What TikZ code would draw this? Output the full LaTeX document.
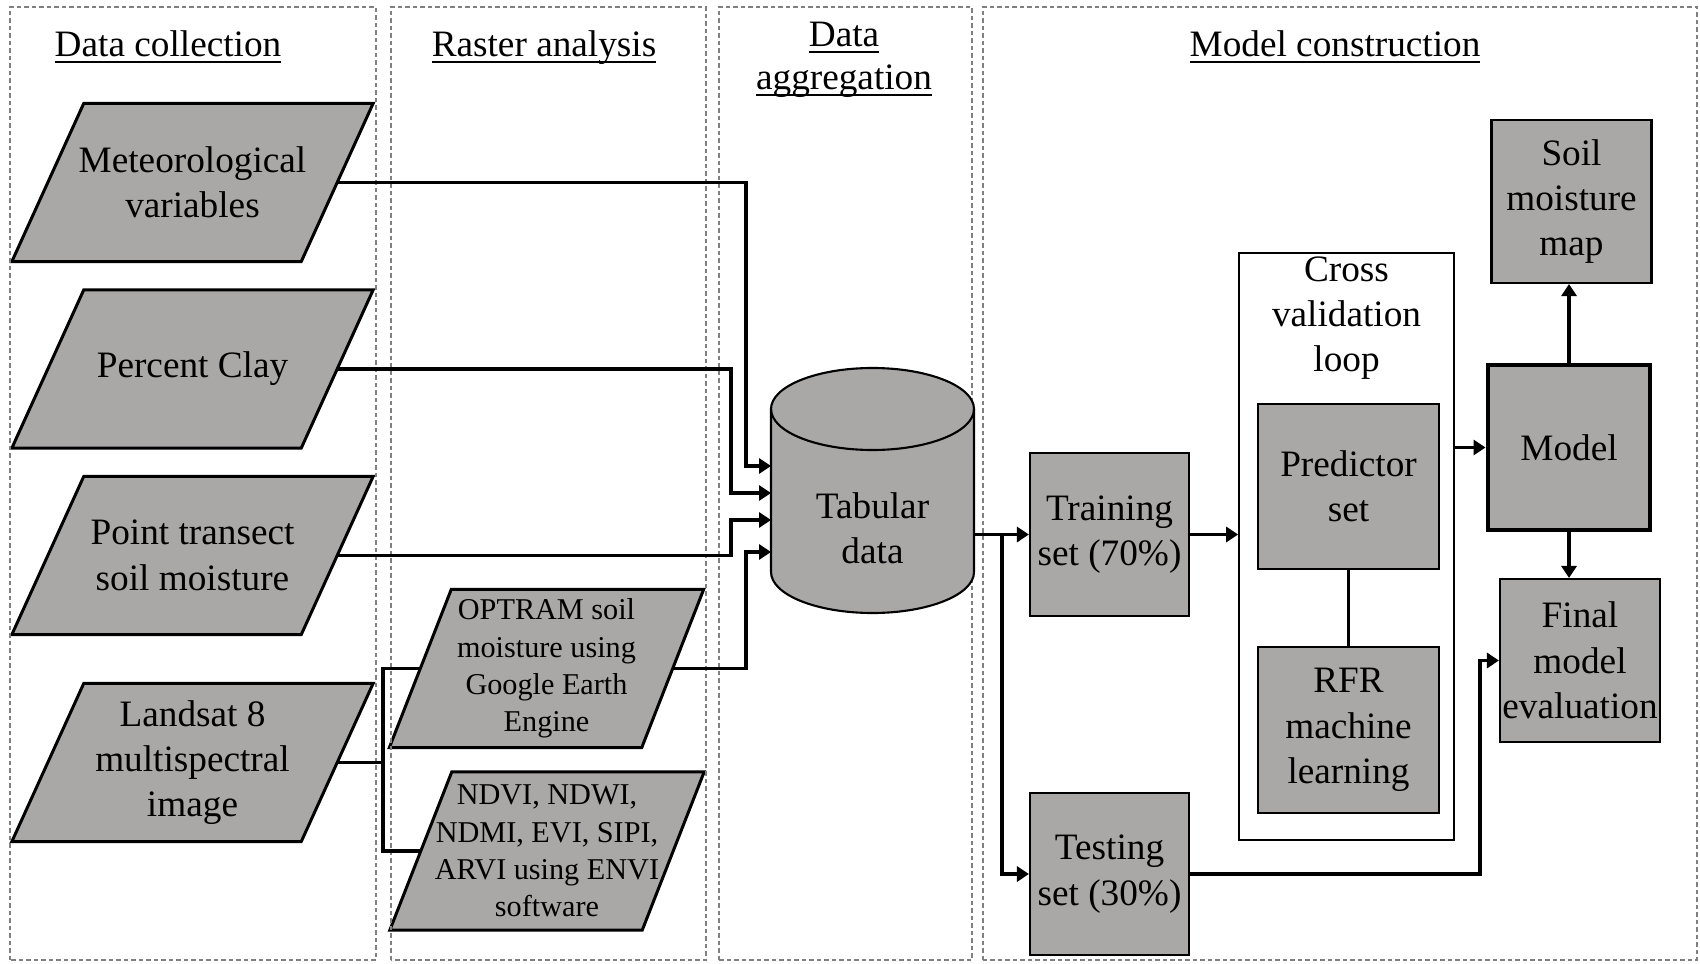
\documentclass[tikz,border=0pt]{standalone}
\usepackage{fontspec}
\setmainfont{Liberation Serif}
\usetikzlibrary{arrows.meta,calc,backgrounds}
\definecolor{boxgray}{RGB}{170,167,167}

\def\fnt{\fontsize{10.6}{12.9}\selectfont}
\def\sfnt{\fontsize{8.6}{10.6}\selectfont}
\def\ul#1{\underline{\smash{#1}}}

\begin{document}
\begin{tikzpicture}[x=0.1mm, y=0.1mm]
	\tikzset{col/.style={draw=gray, dash pattern=on 0.45mm off 0.3mm, line width=0.35pt}}
	\tikzset{ttl/.style={font=\fnt, align=center, anchor=base, inner sep=0pt}}
	\tikzset{para/.style={font=\fnt, align=center, inner sep=0pt, minimum width=28.8mm, minimum height=15.7mm}}
	\tikzset{spara/.style={para, font=\sfnt, minimum width=25.1mm}}
	\tikzset{slant/.style={fill=boxgray, draw, line width=0.85pt}}
	\tikzset{box/.style={draw, line width=0.6pt, fill=boxgray, font=\fnt, align=center, inner sep=0pt}}
	\tikzset{edge/.style={-{Triangle[length=1.2mm, width=1.5mm]}, line width=1.1pt}}
	\tikzset{link/.style={line width=1.1pt}}
	\useasboundingbox (0,0) rectangle (1700,963);
	\draw[col] (10,3) rectangle (376,956);
	\draw[col] (391,3) rectangle (706,956);
	\draw[col] (719,3) rectangle (972,956);
	\draw[col] (983,3) rectangle (1697,956);
	\node[ttl] (t1) at (168,906) {\ul{Data collection}};
	\node[ttl] (t2) at (544,906) {\ul{Raster analysis}};
	\node[ttl] (t3) at (844,916) {\ul{Data}};
	\node[ttl] (t3b) at (844,873) {\ul{aggregation}};
	\node[ttl] (t4) at (1335,906) {\ul{Model construction}};
	\node[para] (met) at (192.5,780.5) {Meteorological\\variables};
	\node[para] (clay) at (192.5,594) {Percent Clay};
	\node[para] (pts) at (192.5,407.5) {Point transect\\soil moisture};
	\node[para] (lsat) at (192.5,200.5) {Landsat 8\\multispectral\\image};
	\node[spara] (optram) at (546.5,294.5) {OPTRAM soil\\moisture using\\Google Earth\\Engine};
	\node[spara] (ndvi) at (547,112) {NDVI, NDWI,\\NDMI, EVI, SIPI,\\ARVI using ENVI\\software};
	\begin{scope}[on background layer]
		\foreach \n/\s in {met/36, clay/36, pts/36, lsat/36, optram/31, ndvi/31}
			\draw[slant] ($(\n.north west)+(\s,0)$) -- ($(\n.north east)+(\s,0)$) -- ($(\n.south east)+(-\s,0)$) -- ($(\n.south west)+(-\s,0)$) -- cycle;
	\end{scope}
	\node[minimum width=20.3mm, minimum height=24.5mm, inner sep=0pt, outer sep=0pt] (tab) at (872.5,472.5) {};
	\filldraw[fill=boxgray, line width=0.6pt] ([yshift=-4.1mm]tab.north west) -- ([yshift=4.1mm]tab.south west) arc[start angle=180, end angle=360, x radius=10.15mm, y radius=4.1mm] -- ([yshift=-4.1mm]tab.north east) arc[start angle=0, end angle=180, x radius=10.15mm, y radius=4.1mm] -- cycle;
	\draw[line width=0.6pt] ([yshift=-4.1mm]tab.north west) arc[start angle=180, end angle=360, x radius=10.15mm, y radius=4.1mm];
	\node[font=\fnt, align=center] (tabtxt) at (872.5,434.5) {Tabular\\data};
	\draw[edge] (met.east) -| ([xshift=-2.5mm, yshift=2.45mm]tab.west) -- ([yshift=2.45mm]tab.west);
	\draw[edge] (clay.east) -| ([xshift=-4mm, yshift=-0.25mm]tab.west) -- ([yshift=-0.25mm]tab.west);
	\draw[edge] (pts.east) -| ([xshift=-4mm, yshift=-2.95mm]tab.west) -- ([yshift=-2.95mm]tab.west);
	\draw[edge] (optram.east) -| ([xshift=-2.5mm, yshift=-6.15mm]tab.west) -- ([yshift=-6.15mm]tab.west);
	\coordinate (split) at (383,200.5);
	\draw[link] (lsat.east) -- (split);
	\draw[link] (optram.west) -| (split);
	\draw[link] (ndvi.west) -| (split);
	\node[box, minimum width=15.9mm, minimum height=16.3mm] (train) at (1109.5,428.5) {Training\\set (70\%)};
	\node[box, minimum width=15.9mm, minimum height=16.2mm] (test) at (1109.5,89) {Testing\\set (30\%)};
	\node[draw, line width=0.5pt, fill=white, minimum width=21.5mm, minimum height=58.7mm] (cv) at (1346.5,416.5) {};
	\node[font=\fnt, align=center] (cvtxt) at (1346.5,645) {Cross\\validation\\loop};
	\node[box, minimum width=18.1mm, minimum height=16.5mm] (pred) at (1348.5,476.5) {Predictor\\set};
	\node[box, minimum width=18.1mm, minimum height=16.6mm] (rfr) at (1348.5,233) {RFR\\machine\\learning};
	\node[box, line width=1.4pt, minimum width=16.2mm, minimum height=16.5mm] (model) at (1569,515.5) {Model};
	\node[box, minimum width=16mm, minimum height=16.3mm] (map) at (1571.5,761.5) {Soil\\moisture\\map};
	\node[box, minimum width=16mm, minimum height=16.3mm] (final) at (1580,302.5) {Final\\model\\evaluation};
	\draw[edge] (tab.east |- train.west) -- (train.west);
	\draw[edge] ($(tab.east |- train.west)+(28,0)$) |- (test.west);
	\draw[edge] (train.east) -- (train.east -| cv.west);
	\draw[link] (pred) -- (rfr);
	\draw[edge] (cv.east |- model.west) -- (model.west);
	\draw[edge] (model.north) -- (model.north |- map.south);
	\draw[edge] (model.south) -- (model.south |- final.north);
	\draw[edge] (test.east) -| ($(final.west)+(-19,0)$) -- (final.west);
\end{tikzpicture}
\end{document}
